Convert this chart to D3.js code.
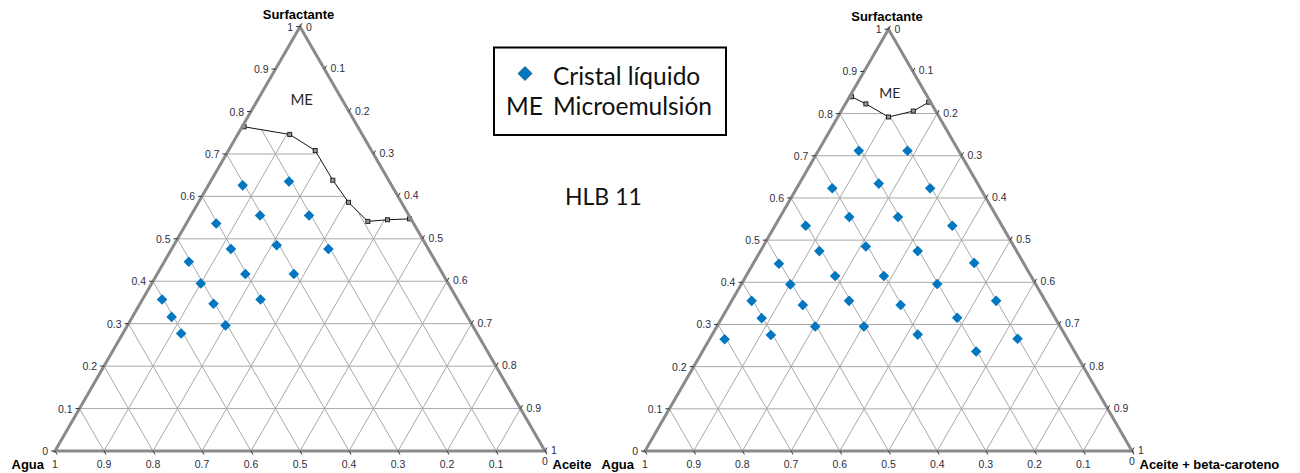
<!DOCTYPE html>
<html>
<head>
<meta charset="utf-8">
<script src="https://cdn.jsdelivr.net/npm/d3@7"></script>
<style>
	body { margin: 0; background: #fff; }
	svg { display: block; }
	.grid { stroke: #a8a8a8; stroke-width: 1; fill: none; }
	.edge { stroke: #8a8a8a; stroke-width: 3; fill: none; stroke-linejoin: miter; }
	.tick { stroke: #333; stroke-width: 1; }
	.tick-label { font-family: "Liberation Sans", Arial, sans-serif; font-size: 10.5px; fill: #2e2e40; }
	.vertex-title { font-family: "Liberation Sans", Arial, sans-serif; font-size: 13px; font-weight: bold; fill: #000; }
	.me-line { stroke: #111; stroke-width: 1; fill: none; }
	.me-marker { stroke: #222; stroke-width: 1; fill: #9a9a9a; }
	.crystal { fill: #0077c0; }
	.calibri { font-family: Lato, "Open Sans", sans-serif; fill: #111; }
</style>
</head>
<body>
<svg class="canvas" width="1300" height="473"></svg>
<script>

// tick values shared by the three axes of each triangle
var tickValues = [0, 0.1, 0.2, 0.3, 0.4, 0.5, 0.6, 0.7, 0.8, 0.9, 1];
var tickLabels = ['0', '0.1', '0.2', '0.3', '0.4', '0.5', '0.6', '0.7', '0.8', '0.9', '1'];

// [surfactante, aceite] fractions, agua = 1 - both
var crystalLeft = [
	[0.626, 0.070], [0.635, 0.160], [0.555, 0.141], [0.555, 0.241], [0.536, 0.061],
	[0.476, 0.121], [0.485, 0.210], [0.476, 0.320], [0.446, 0.050], [0.417, 0.180],
	[0.417, 0.279], [0.395, 0.100], [0.357, 0.040], [0.347, 0.150], [0.357, 0.241],
	[0.316, 0.080], [0.296, 0.200], [0.277, 0.119]
];

var crystalRight = [
	[0.712, 0.083], [0.712, 0.183], [0.623, 0.073], [0.634, 0.163], [0.623, 0.274],
	[0.555, 0.142], [0.555, 0.242], [0.534, 0.364], [0.534, 0.063], [0.474, 0.121],
	[0.485, 0.211], [0.474, 0.323], [0.446, 0.453], [0.444, 0.053], [0.415, 0.183],
	[0.415, 0.283], [0.396, 0.402], [0.395, 0.101], [0.356, 0.041], [0.346, 0.151],
	[0.356, 0.241], [0.346, 0.352], [0.356, 0.543], [0.315, 0.082], [0.295, 0.202],
	[0.295, 0.302], [0.276, 0.422], [0.316, 0.483], [0.266, 0.632], [0.236, 0.562],
	[0.275, 0.121], [0.265, 0.031]
];

// microemulsion boundary, [surfactante, aceite]
var meLeft = [
	[0.764, 0.004], [0.746, 0.106], [0.708, 0.177], [0.638, 0.248],
	[0.586, 0.306], [0.541, 0.368], [0.545, 0.406], [0.547, 0.450]
];

var meRight = [
	[0.840, 0.004], [0.823, 0.042], [0.792, 0.104], [0.806, 0.148], [0.827, 0.169]
];

var svg = d3.select('.canvas');

function drawTernary(cfg, crystal, boundary) {
	var height = (cfg.xR - cfg.xL) * Math.sqrt(3) / 2;
	var xScale = d3.scaleLinear().domain([0, 1]).range([cfg.xL, cfg.xR]);
	var yScale = d3.scaleLinear().domain([0, 1]).range([cfg.base, cfg.base - height]);

	// s = surfactante, o = aceite
	function px(s, o) { return xScale(o + s / 2); }
	function py(s) { return yScale(s); }

	var g = svg.append('g').attr('class', 'ternary');
	var inner = tickValues.slice(1, -1);

	// GRID
	var gridLines = [];
	inner.forEach(function(k) {
		gridLines.push([[k, 0], [k, 1 - k]]);       // surfactante constant
		gridLines.push([[0, k], [1 - k, k]]);       // aceite constant
		gridLines.push([[0, 1 - k], [1 - k, 0]]);   // agua constant
	});
	g.selectAll('line.grid')
		.data(gridLines)
		.enter().append('line')
		.attr('class', 'grid')
		.attr('x1', function(d) { return px(d[0][0], d[0][1]); })
		.attr('y1', function(d) { return py(d[0][0]); })
		.attr('x2', function(d) { return px(d[1][0], d[1][1]); })
		.attr('y2', function(d) { return py(d[1][0]); });

	// ME REGION (blank above the boundary)
	var first = boundary[0], last = boundary[boundary.length - 1];
	var region = boundary.slice();
	region.push([last[0], 1 - last[0]]);
	region.push([1, 0]);
	region.push([first[0], 0]);
	var ternLine = d3.line().x(function(d) { return px(d[0], d[1]); }).y(function(d) { return py(d[0]); });
	g.append('path')
		.attr('d', ternLine(region) + 'Z')
		.attr('fill', '#fff');

	g.append('path')
		.attr('class', 'me-line')
		.attr('d', ternLine(boundary));

	g.selectAll('rect.me-marker')
		.data(boundary)
		.enter().append('rect')
		.attr('class', 'me-marker')
		.attr('x', function(d) { return px(d[0], d[1]) - 2; })
		.attr('y', function(d) { return py(d[0]) - 2; })
		.attr('width', 4)
		.attr('height', 4);

	// CRYSTAL POINTS
	g.selectAll('path.crystal')
		.data(crystal)
		.enter().append('path')
		.attr('class', 'crystal')
		.attr('d', d3.symbol().type(d3.symbolSquare).size(56))
		.attr('transform', function(d) { return 'translate(' + px(d[0], d[1]) + ',' + py(d[0]) + ') rotate(45)'; });

	// TRIANGLE
	g.append('path')
		.attr('class', 'edge')
		.attr('d', 'M' + px(0, 0) + ',' + py(0) + 'L' + px(0, 1) + ',' + py(0) + 'L' + px(1, 0) + ',' + py(1) + 'Z');

	// LEFT AXIS (surfactante)
	var left = g.append('g');
	left.selectAll('line')
		.data(tickValues)
		.enter().append('line')
		.attr('class', 'tick')
		.attr('x1', function(d) { return px(d, 0) - 4; })
		.attr('x2', function(d) { return px(d, 0); })
		.attr('y1', function(d) { return py(d); })
		.attr('y2', function(d) { return py(d); });
	left.selectAll('text')
		.data(tickValues)
		.enter().append('text')
		.attr('class', 'tick-label')
		.attr('text-anchor', 'end')
		.attr('x', function(d) { return px(d, 0) - 7; })
		.attr('y', function(d) { return py(d) + 4; })
		.text(function(d, i) { return tickLabels[i]; });

	// RIGHT AXIS (aceite)
	var right = g.append('g');
	right.selectAll('line')
		.data(tickValues)
		.enter().append('line')
		.attr('class', 'tick')
		.attr('x1', function(d) { return px(1 - d, d); })
		.attr('y1', function(d) { return py(1 - d); })
		.attr('x2', function(d) { return px(1 - d, d) + 2; })
		.attr('y2', function(d) { return py(1 - d) - 3.5; });
	right.selectAll('text')
		.data(tickValues)
		.enter().append('text')
		.attr('class', 'tick-label')
		.attr('x', function(d) { return px(1 - d, d) + 6; })
		.attr('y', function(d) { return py(1 - d) + (d === 0 ? 4 : 3); })
		.text(function(d, i) { return tickLabels[i]; });

	// BOTTOM AXIS (agua)
	var bottom = g.append('g');
	bottom.selectAll('line')
		.data(tickValues)
		.enter().append('line')
		.attr('class', 'tick')
		.attr('x1', function(d) { return px(0, 1 - d); })
		.attr('y1', py(0))
		.attr('x2', function(d) { return px(0, 1 - d) + 2; })
		.attr('y2', py(0) + 3.5);
	bottom.selectAll('text')
		.data(tickValues)
		.enter().append('text')
		.attr('class', 'tick-label')
		.attr('text-anchor', 'middle')
		.attr('x', function(d) { return px(0, 1 - d); })
		.attr('y', function(d) { return py(0) + (d === 0 ? 14 : 17); })
		.text(function(d, i) { return tickLabels[i]; });

	// VERTEX TITLES
	g.append('text')
		.attr('class', 'vertex-title')
		.attr('text-anchor', 'middle')
		.attr('x', px(1, 0) - 1.5)
		.attr('y', cfg.topTitleY)
		.text('Surfactante');
	g.append('text')
		.attr('class', 'vertex-title')
		.attr('text-anchor', 'end')
		.attr('x', px(0, 0) - 11)
		.attr('y', py(0) + 18)
		.text('Agua');
	g.append('text')
		.attr('class', 'vertex-title')
		.attr('x', px(0, 1) + 7.5)
		.attr('y', py(0) + 18)
		.text(cfg.oilTitle);

	// ME LABEL
	g.append('text')
		.attr('class', 'calibri')
		.attr('text-anchor', 'middle')
		.attr('x', px(cfg.meAt[0], cfg.meAt[1]))
		.attr('y', py(cfg.meAt[0]) + 5.5)
		.style('font-size', cfg.meSize + 'px')
		.style('fill', '#2a2a2a')
		.text('ME');
}

drawTernary({ xL: 55, xR: 545, base: 451, topTitleY: 19, oilTitle: 'Aceite', meAt: [0.829, 0.089], meSize: 15 }, crystalLeft, meLeft);
drawTernary({ xL: 645, xR: 1132, base: 451, topTitleY: 21, oilTitle: 'Aceite + beta-caroteno', meAt: [0.849, 0.078], meSize: 14 }, crystalRight, meRight);

// LEGEND
var legend = svg.append('g');
legend.append('rect')
	.attr('x', 494)
	.attr('y', 47.5)
	.attr('width', 232)
	.attr('height', 87.5)
	.attr('fill', '#fff')
	.attr('stroke', '#000')
	.attr('stroke-width', 2);
legend.append('path')
	.attr('d', d3.symbol().type(d3.symbolSquare).size(100))
	.attr('transform', 'translate(525,73.5) rotate(45)')
	.attr('fill', '#0077c0')
	.attr('stroke', '#1f3f60')
	.attr('stroke-width', 0.6);
legend.append('text')
	.attr('class', 'calibri')
	.attr('x', 553)
	.attr('y', 85)
	.style('font-size', '24.5px')
	.text('Cristal líquido');
legend.append('text')
	.attr('class', 'calibri')
	.attr('x', 506)
	.attr('y', 115)
	.style('font-size', '24.5px')
	.text('ME');
legend.append('text')
	.attr('class', 'calibri')
	.attr('x', 553)
	.attr('y', 115)
	.style('font-size', '24.5px')
	.text('Microemulsión');

// TITLE
svg.append('text')
	.attr('class', 'calibri')
	.attr('x', 565)
	.attr('y', 205)
	.style('font-size', '23px')
	.text('HLB 11');

</script>
</body>
</html>
